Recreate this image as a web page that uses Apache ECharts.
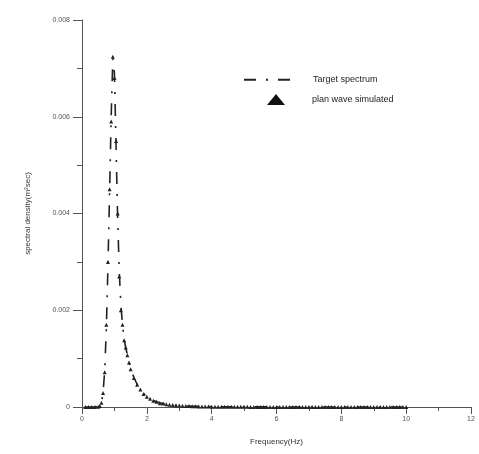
<!DOCTYPE html>
<html>
<head>
<meta charset="utf-8">
<script src="https://cdn.jsdelivr.net/npm/echarts@6/dist/echarts.min.js"></script>
<style>
  html, body { margin: 0; padding: 0; background: #fff; }
  #chart { width: 479px; height: 454px; }
</style>
</head>
<body>
<div id="chart"></div>
<script>
  // frequency grid (Hz)
  var freq = [
    0.1, 0.2, 0.3, 0.4, 0.5,
    0.55, 0.6, 0.65, 0.7, 0.75, 0.8, 0.85, 0.9, 0.95, 1.0,
    1.05, 1.1, 1.15, 1.2, 1.25, 1.3, 1.35, 1.4, 1.45, 1.5,
    1.6, 1.7, 1.8, 1.9, 2.0, 2.1, 2.2, 2.3, 2.4, 2.5,
    2.6, 2.7, 2.8, 2.9, 3.0, 3.1, 3.2, 3.3, 3.4, 3.5,
    3.6, 3.7, 3.8, 3.9, 4.0, 4.1, 4.2, 4.3, 4.4, 4.5,
    4.6, 4.7, 4.8, 4.9, 5.0, 5.1, 5.2, 5.3, 5.4, 5.5,
    5.6, 5.7, 5.8, 5.9, 6.0, 6.1, 6.2, 6.3, 6.4, 6.5,
    6.6, 6.7, 6.8, 6.9, 7.0, 7.1, 7.2, 7.3, 7.4, 7.5,
    7.6, 7.7, 7.8, 7.9, 8.0, 8.1, 8.2, 8.3, 8.4, 8.5,
    8.6, 8.7, 8.8, 8.9, 9.0, 9.1, 9.2, 9.3, 9.4, 9.5,
    9.6, 9.7, 9.8, 9.9, 10.0
  ];

  // target spectrum (m^2 sec)
  var targetDensity = [
    0, 0, 0, 0, 0.000003,
    0.000015, 0.00008, 0.0003, 0.00075, 0.0016, 0.0029, 0.0044, 0.0060, 0.0072, 0.0069,
    0.0054, 0.0039, 0.0028, 0.0021, 0.0017, 0.0014, 0.00122, 0.00108, 0.00093, 0.0008,
    0.00061, 0.00047, 0.00036, 0.00028, 0.00022, 0.00017, 0.000135, 0.000108, 0.000087, 0.00007,
    0.000058, 0.000048, 0.00004, 0.000034, 0.000029, 0.000025, 0.000022, 0.000019, 0.000016, 0.000014,
    0.000012, 0.000011, 9.5e-6, 8.5e-6, 7.5e-6, 6.7e-6, 6.0e-6, 5.4e-6, 4.9e-6, 4.4e-6,
    4.0e-6, 3.6e-6, 3.3e-6, 3.0e-6, 2.8e-6, 2.6e-6, 2.4e-6, 2.2e-6, 2.0e-6, 1.9e-6,
    1.8e-6, 1.7e-6, 1.6e-6, 1.5e-6, 1.4e-6, 1.3e-6, 1.25e-6, 1.2e-6, 1.1e-6, 1.05e-6,
    1.0e-6, 9.5e-7, 9.0e-7, 8.5e-7, 8.0e-7, 7.6e-7, 7.2e-7, 6.9e-7, 6.6e-7, 6.3e-7,
    6.0e-7, 5.7e-7, 5.5e-7, 5.3e-7, 5.0e-7, 4.8e-7, 4.6e-7, 4.4e-7, 4.2e-7, 4.1e-7,
    3.9e-7, 3.8e-7, 3.6e-7, 3.5e-7, 3.4e-7, 3.3e-7, 3.2e-7, 3.1e-7, 3.0e-7, 2.9e-7,
    2.8e-7, 2.7e-7, 2.6e-7, 2.5e-7, 2.4e-7
  ];

  // simulated plane wave spectrum (m^2 sec)
  var simDensity = [
    0, 0, 0, 0, 0.000004,
    0.00002, 0.00009, 0.00029, 0.00072, 0.0017, 0.0030, 0.0045, 0.0059, 0.00724, 0.0068,
    0.0055, 0.0040, 0.0027, 0.0020, 0.0017, 0.00138, 0.00123, 0.00107, 0.00092, 0.00078,
    0.0006, 0.00046, 0.00036, 0.00027, 0.00021, 0.00017, 0.00013, 0.00011, 0.00008, 0.00007,
    0.000055, 0.000047, 0.00004, 0.000033, 0.000029, 0.000025, 0.000021, 0.000019, 0.000016, 0.000014,
    0.000012, 0.000011, 9.5e-6, 8.5e-6, 7.5e-6, 6.7e-6, 6.0e-6, 5.4e-6, 4.9e-6, 4.4e-6,
    4.0e-6, 3.6e-6, 3.3e-6, 3.0e-6, 2.8e-6, 2.6e-6, 2.4e-6, 2.2e-6, 2.0e-6, 1.9e-6,
    1.8e-6, 1.7e-6, 1.6e-6, 1.5e-6, 1.4e-6, 1.3e-6, 1.25e-6, 1.2e-6, 1.1e-6, 1.05e-6,
    1.0e-6, 9.5e-7, 9.0e-7, 8.5e-7, 8.0e-7, 7.6e-7, 7.2e-7, 6.9e-7, 6.6e-7, 6.3e-7,
    6.0e-7, 5.7e-7, 5.5e-7, 5.3e-7, 5.0e-7, 4.8e-7, 4.6e-7, 4.4e-7, 4.2e-7, 4.1e-7,
    3.9e-7, 3.8e-7, 3.6e-7, 3.5e-7, 3.4e-7, 3.3e-7, 3.2e-7, 3.1e-7, 3.0e-7, 2.9e-7,
    2.8e-7, 2.7e-7, 2.6e-7, 2.5e-7, 2.4e-7
  ];

  var legendNames = ['Target spectrum', 'plan wave simulated'];

  var chart = echarts.init(document.getElementById('chart'));
  var axisColor = '#555';
  var labelStyle = { color: '#555', fontSize: 7, fontFamily: 'Liberation Sans' };
  var legendText = { color: '#222', fontSize: 9, fontFamily: 'Liberation Sans' };

  var option = {
    animation: false,
    backgroundColor: '#fff',
    grid: { left: 82, right: 8, top: 20, bottom: 47 },
    legend: [
      {
        data: [legendNames[0]],
        left: 243, top: 75,
        padding: 0,
        itemWidth: 49, itemHeight: 12,
        itemStyle: { opacity: 0 },
        textStyle: Object.assign({ padding: [0, 0, 0, 15] }, legendText)
      },
      {
        data: [legendNames[1]],
        left: 267, top: 94,
        padding: 0,
        itemWidth: 18, itemHeight: 11,
        itemStyle: { color: '#111', opacity: 1 },
        textStyle: Object.assign({ padding: [0, 0, 0, 22] }, legendText)
      }
    ],
    xAxis: {
      type: 'value',
      min: 0, max: 12, interval: 2,
      name: 'Frequency(Hz)',
      nameLocation: 'middle',
      nameGap: 31,
      nameTextStyle: { color: '#333', fontSize: 8, fontFamily: 'Liberation Sans' },
      axisLine: { show: true, lineStyle: { color: axisColor, width: 1 } },
      axisTick: { show: true, length: 7, lineStyle: { color: axisColor } },
      minorTick: { show: true, splitNumber: 2, length: 4, lineStyle: { color: axisColor } },
      axisLabel: Object.assign({ margin: 9 }, labelStyle),
      splitLine: { show: false }
    },
    yAxis: {
      type: 'value',
      min: 0, max: 0.008, interval: 0.002,
      name: 'spectral density(m²sec)',
      nameLocation: 'middle',
      nameGap: 50,
      nameTextStyle: { color: '#333', fontSize: 8, fontFamily: 'Liberation Sans' },
      axisLine: { show: true, lineStyle: { color: axisColor, width: 1 } },
      axisTick: { show: true, length: 9, lineStyle: { color: axisColor } },
      minorTick: { show: true, splitNumber: 2, length: 5, lineStyle: { color: axisColor } },
      axisLabel: Object.assign({
        margin: 12,
        formatter: function (v) { return v === 0 ? '0' : v.toFixed(3); }
      }, labelStyle),
      splitLine: { show: false }
    },
    series: [
      {
        name: legendNames[0],
        type: 'line',
        data: freq.map(function (f, i) { return [f, targetDensity[i]]; }),
        showSymbol: false,
        symbol: 'none',
        lineStyle: { color: '#222', width: 1.6, type: [12, 10, 2, 10] },
        itemStyle: { color: '#222' },
        z: 2
      },
      {
        name: legendNames[1],
        type: 'scatter',
        data: freq.map(function (f, i) { return [f, simDensity[i]]; }),
        symbol: 'triangle',
        symbolSize: 4,
        itemStyle: { color: '#222', opacity: 1 },
        z: 3
      }
    ]
  };
  chart.setOption(option);
</script>
</body>
</html>
